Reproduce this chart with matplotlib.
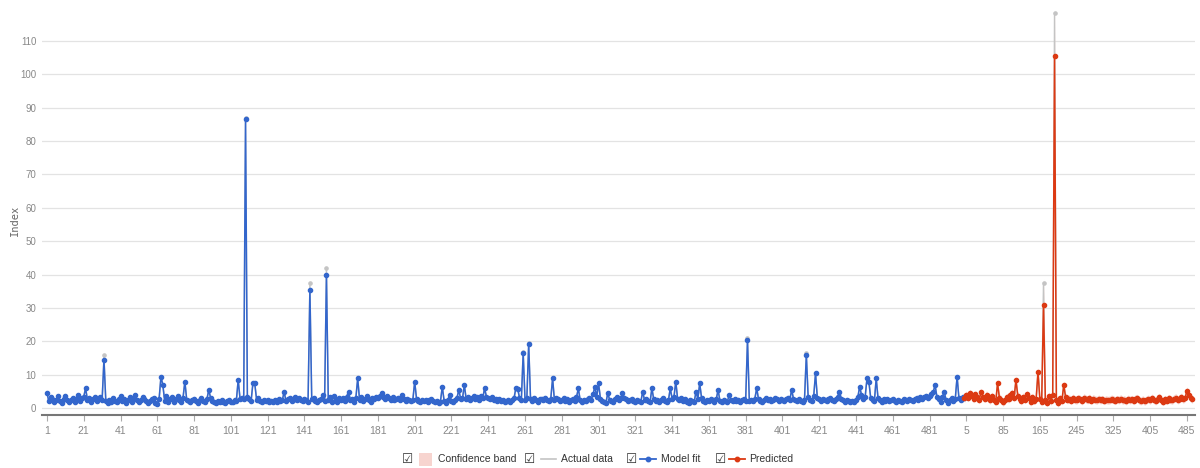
import numpy as np
import matplotlib.pyplot as plt
from matplotlib.lines import Line2D
from matplotlib.patches import Rectangle

# Model fit (blue), one value per period of the history
fit = [
    4.6, 2.1, 3.4, 2.8, 1.9, 2.5, 3.6, 2.2, 1.7, 2.9, 3.8, 2.4, 1.8, 2.6, 3.1, 2.0, 2.7, 3.9, 2.3, 3.0,
    3.5, 6.0, 2.6, 3.2, 1.9, 2.8, 3.4, 2.1, 2.7, 3.3, 2.5, 14.5, 2.2, 1.6, 2.4, 1.9, 3.0, 2.3, 1.8, 2.9,
    3.6, 2.2, 2.8, 1.7, 2.5, 3.3, 2.0, 3.1, 3.9, 2.4, 1.8, 2.6, 3.5, 2.9, 2.1, 1.6, 2.3, 2.7, 3.0, 1.5,
    1.4, 2.9, 9.5, 7.0, 2.3, 3.6, 1.8, 2.7, 3.4, 2.0, 2.9, 3.7, 2.5, 1.9, 3.2, 8.0, 2.6, 2.1, 1.8, 2.4,
    2.9, 2.2, 1.7, 2.5, 3.0, 2.3, 1.9, 2.8, 5.5, 3.1, 2.2, 1.8, 1.6, 2.1, 1.9, 2.4, 2.0, 1.7, 2.2, 2.5,
    2.0, 1.8, 2.6, 2.3, 8.5, 2.9, 3.2, 2.7, 86.5, 3.4, 2.8, 2.1, 7.5, 7.5, 2.6, 3.2, 2.2, 1.9, 2.4, 2.1,
    2.6, 1.8, 2.3, 2.0, 2.5, 1.9, 2.7, 2.2, 2.4, 5.0, 2.1, 2.8, 3.1, 2.3, 2.6, 3.3, 2.4, 3.0, 2.5, 2.2,
    2.9, 2.4, 2.0, 35.5, 2.7, 3.1, 2.3, 1.9, 2.5, 2.8, 4.0, 2.2, 40.0, 2.6, 3.4, 2.0, 3.6, 2.4, 1.8, 3.2,
    2.5, 3.0, 2.1, 3.5, 5.0, 2.4, 2.8, 1.9, 3.1, 9.0, 2.6, 3.3, 2.2, 2.9, 3.6, 2.5, 2.0, 3.2, 2.7, 3.4,
    3.0, 3.8, 4.5, 3.4, 2.9, 3.6, 3.1, 2.6, 3.3, 2.4, 2.8, 3.2, 2.5, 4.0, 2.7, 2.2, 2.9, 2.4, 2.1, 2.6,
    8.0, 2.8, 2.3, 2.0, 2.6, 2.2, 2.5, 1.9, 2.4, 2.7, 2.1, 1.8, 2.3, 1.6, 2.0, 6.5, 2.2, 1.7, 2.5, 4.0,
    2.3, 1.9, 2.6, 3.2, 5.5, 2.8, 3.0, 7.0, 2.7, 3.4, 2.5, 3.1, 3.6, 2.9, 3.3, 2.6, 3.8, 3.0, 6.0, 3.5,
    3.1, 2.8, 3.4, 2.6, 2.9, 2.3, 2.7, 2.1, 2.4, 1.9, 2.2, 2.6, 2.0, 2.5, 3.0, 6.0, 5.8, 3.2, 2.4, 16.5,
    2.6, 3.0, 19.3, 2.8, 2.3, 3.1, 2.5, 1.8, 2.7, 2.9, 2.4, 3.2, 2.6, 2.1, 2.8, 9.0, 2.4, 3.0, 2.7, 2.2,
    2.6, 3.1, 2.3, 2.8, 2.0, 2.5, 2.9, 2.2, 3.3, 6.0, 2.4, 1.8, 2.6, 2.1, 2.8, 3.2, 2.5, 4.2, 6.5, 3.4,
    7.5, 2.9, 2.3, 2.0, 1.7, 4.5, 2.6, 2.2, 1.9, 2.8, 3.3, 2.5, 3.0, 4.5, 3.2, 2.7, 2.1, 2.4, 2.9, 2.2,
    1.8, 2.6, 2.3, 2.0, 5.0, 2.4, 2.8, 2.1, 1.9, 6.0, 2.7, 2.3, 2.6, 2.0, 2.5, 3.1, 2.2, 1.8, 2.4, 6.0,
    2.9, 3.4, 8.0, 2.8, 2.5, 3.1, 2.3, 2.7, 2.0, 1.7, 2.6, 2.2, 1.9, 5.0, 2.8, 7.5, 3.2, 2.1, 1.8, 2.4,
    2.2, 2.9, 2.5, 1.9, 2.7, 5.5, 2.3, 2.0, 2.6, 2.2, 1.8, 4.0, 2.5, 2.1, 2.8, 2.3, 2.6, 2.0, 2.4, 2.7,
    2.3, 20.5, 2.1, 2.6, 2.2, 2.9, 6.0, 2.7, 2.3, 2.0, 2.6, 3.0, 2.4, 2.8, 2.2, 2.5, 3.1, 2.7, 2.3, 2.9,
    2.6, 2.2, 2.8, 3.2, 2.5, 5.5, 2.9, 2.4, 2.1, 2.7, 2.3, 1.9, 2.6, 16.0, 3.3, 2.5, 2.2, 3.6, 10.5, 3.0,
    2.7, 2.3, 2.9, 2.5, 2.1, 2.8, 3.1, 2.6, 2.2, 2.8, 3.4, 5.0, 2.9, 2.4, 2.0, 2.6, 2.2, 1.8, 2.3, 2.0,
    2.5, 3.3, 6.5, 4.0, 2.8, 3.5, 9.0, 8.0, 3.2, 2.6, 2.1, 9.0, 3.0, 2.4, 1.9, 2.7, 2.3, 2.8, 2.1, 2.5,
    2.9, 2.2, 1.8, 2.6, 2.3, 2.0, 2.7, 2.4, 2.1, 2.9, 2.5, 2.2, 2.8, 3.1, 2.6, 3.4, 2.9, 3.3, 3.8, 3.0,
    3.6, 4.2, 4.8, 7.0, 3.5, 2.8, 1.9, 3.3, 5.0, 2.4, 1.6, 2.5, 3.0, 2.2, 2.8, 9.5, 3.0, 2.6, 3.4, 3.0,
]

# Predicted (red), the test periods
predicted = [
    4.0, 3.2, 4.5, 3.6, 2.8, 4.2, 3.3, 2.6, 4.8, 3.5, 2.9, 4.1, 3.0, 2.4, 3.7, 2.5, 1.9, 7.5, 3.2, 2.6,
    1.8, 2.4, 3.3, 2.7, 4.0, 4.6, 3.1, 8.5, 3.8, 2.9, 2.2, 3.5, 2.6, 4.2, 3.0, 1.8, 3.4, 2.3, 2.9, 11.0,
    2.8, 1.9, 31.0, 2.4, 1.7, 3.6, 2.1, 4.0, 105.4, 2.6, 1.5, 3.0, 2.2, 7.0, 3.4, 2.5, 2.9, 2.3, 3.1, 2.6,
    2.4, 3.0, 2.7, 2.2, 3.2, 2.8, 2.5, 3.1, 2.3, 2.9, 2.6, 2.4, 2.8, 2.5, 2.7, 2.3, 2.6, 2.4, 2.5, 2.8,
    2.6, 2.3, 2.7, 2.5, 2.9, 2.4, 2.6, 2.2, 2.8, 2.5, 2.7, 2.3, 2.9, 3.0, 2.4, 2.2, 2.6, 2.1, 2.5, 2.8,
    2.4, 3.1, 2.6, 2.2, 2.9, 3.3, 2.5, 2.0, 2.7, 2.3, 3.0, 2.6, 2.4, 2.9, 3.2, 2.5, 2.8, 3.4, 2.7, 3.1,
    5.2, 4.0, 3.1, 2.7,
]

# Actual data is the same as the fit except where it peaks higher
actual_idx = [31, 108, 143, 152, 259, 262, 381, 413, 542, 548]
actual_val = [16.0, 87.0, 37.5, 42.0, 17.0, 19.5, 21.0, 16.5, 37.6, 118.3]

band_fit = 0.8     # half width of the confidence band
band_pred = 1.2

hist_labels = [str(i + 1) for i in range(len(fit))]
pred_labels = [str(5 + 4 * k) for k in range(len(predicted))]

fit = np.array(fit)
predicted = np.array(predicted)
n_hist = len(fit)
x_hist = np.arange(n_hist)
x_pred = np.arange(n_hist, n_hist + len(predicted))

actual = np.concatenate([fit, predicted])
actual[actual_idx] = actual_val
x_all = np.arange(len(actual))

BLUE = "#3366cc"
RED = "#dc3912"
GREY = "#c4c4c4"

fig = plt.figure(figsize=(12, 4.68), dpi=100)
ax = fig.add_axes([0.035, 0.1132, 0.961, 0.8712])

# confidence bands
up_h = np.maximum(fit, actual[:n_hist]) + band_fit
ax.fill_between(x_hist, fit - band_fit, up_h, color="#d6e2f6", lw=0, zorder=1)
xp = np.concatenate([[n_hist - 1], x_pred])
yp = np.concatenate([[fit[-1]], predicted])
ap = np.concatenate([[actual[n_hist - 1]], actual[n_hist:]])
ax.fill_between(xp, yp - band_pred, np.maximum(yp, ap) + band_pred,
                color="#f7d4cf", lw=0, zorder=1)

ax.plot(x_all, actual, color=GREY, lw=1.0, marker="o", ms=2.3, zorder=2)
ax.plot(x_hist, fit, color=BLUE, lw=1.1, marker="o", ms=3.0, zorder=3)
ax.plot(xp, yp, color=RED, lw=1.1, marker="o", ms=3.0, zorder=3)

ax.set_xlim(-2.7, len(actual) + 0.5)
ax.set_ylim(-2, 120)
ax.set_yticks(range(0, 111, 10))
ax.grid(axis="y", color="#e3e3e3", lw=0.9)
ax.set_axisbelow(True)

labels = hist_labels + pred_labels
ticks = list(range(0, len(labels), 20))
ax.set_xticks(ticks)
ax.set_xticklabels([labels[t] for t in ticks])

for s in ["top", "right", "left"]:
    ax.spines[s].set_visible(False)
ax.spines["bottom"].set_color("#777777")
ax.spines["bottom"].set_linewidth(1.5)
ax.tick_params(axis="y", length=0, labelsize=7, labelcolor="#888888", pad=4)
ax.tick_params(axis="x", length=4, color="#aaaaaa", labelsize=7.5,
               labelcolor="#888888", pad=4)
for lab in ax.get_xticklabels() + ax.get_yticklabels():
    lab.set_family("Liberation Sans")

fig.text(15 / 1200, 1 - 220 / 468, "Index", rotation=90, ha="center", va="center",
         fontsize=7.5, color="#666666", family="DejaVu Sans Mono")

# legend along the bottom, as in the original
ly = 1 - 459 / 468
def px(x):
    return x / 1200

for cx in [408, 530, 632, 721]:
    fig.text(px(cx), ly, "\u2611", ha="center", va="center", fontsize=9,
             color="#333333", family="DejaVu Sans")
fig.add_artist(Rectangle((px(419), 1 - 466 / 468), px(13), 13 / 468,
                         transform=fig.transFigure, color="#f7d4cf", lw=0))
fig.add_artist(Line2D([px(541), px(556)], [ly, ly], color=GREY, lw=1.2,
                      transform=fig.transFigure))
fig.add_artist(Line2D([px(640), px(656)], [ly, ly], color=BLUE, lw=1.3,
                      transform=fig.transFigure))
fig.add_artist(Line2D([px(648)], [ly], color=BLUE, marker="o", ms=3.2,
                      transform=fig.transFigure))
fig.add_artist(Line2D([px(729), px(745)], [ly, ly], color=RED, lw=1.3,
                      transform=fig.transFigure))
fig.add_artist(Line2D([px(737)], [ly], color=RED, marker="o", ms=3.2,
                      transform=fig.transFigure))
for x0, txt in [(438, "Confidence band"), (561, "Actual data"),
                (661, "Model fit"), (749, "Predicted")]:
    fig.text(px(x0), ly, txt, ha="left", va="center", fontsize=7.5,
             color="#333333", family="Liberation Sans")

fig.savefig("out.png", dpi=100)
